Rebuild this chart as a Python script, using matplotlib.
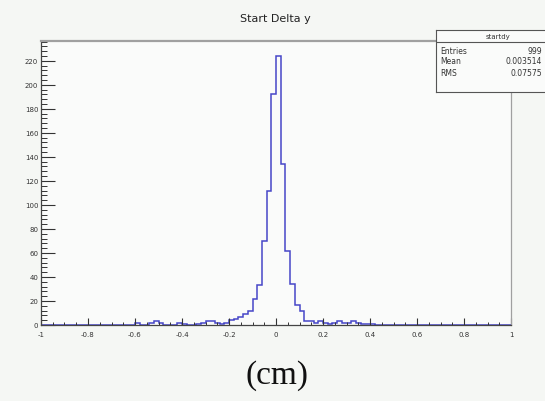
import matplotlib
matplotlib.use("Agg")
import matplotlib.pyplot as plt
from matplotlib.ticker import MultipleLocator, FuncFormatter
import numpy as np

# histogram: 100 bins on [-1, 1]
edges = np.linspace(-1, 1, 101)
counts = np.zeros(100)
bin_vals = {20: 2, 23: 2, 24: 3, 25: 2, 29: 2, 30: 1,
            33: 1, 34: 2, 35: 3, 36: 3, 37: 2, 38: 1, 39: 2,
            40: 4, 41: 5, 42: 7, 43: 9, 44: 12, 45: 22, 46: 33,
            47: 70, 48: 112, 49: 192, 50: 224, 51: 134, 52: 62,
            53: 34, 54: 17, 55: 12, 56: 3, 57: 3, 58: 2, 59: 3,
            60: 2, 61: 1, 62: 2, 63: 3, 64: 2, 65: 2, 66: 3,
            67: 2, 68: 1, 69: 1, 70: 1}
for i, v in bin_vals.items():
    counts[i] = v

stat_names = ["Entries", "Mean", "RMS"]
stat_values = ["999", "0.003514", "0.07575"]

W, H = 545, 402
fig = plt.figure(figsize=(W / 100, H / 100), dpi=100)
fig.patch.set_facecolor("#f5f7f4")

x0, x1, y0, y1 = 41, 511, 42, 326
ax = fig.add_axes([x0 / W, 1 - y1 / H, (x1 - x0) / W, (y1 - y0) / H])
ax.set_facecolor("#fafbfa")
ax.stairs(counts, edges, color="#4646c8", lw=1.1)

ax.set_xlim(-1, 1)
ax.set_ylim(0, 236.5)
ax.xaxis.set_major_locator(MultipleLocator(0.2))
ax.xaxis.set_minor_locator(MultipleLocator(0.05))
ax.yaxis.set_major_locator(MultipleLocator(20))
ax.yaxis.set_minor_locator(MultipleLocator(4))
ax.xaxis.set_major_formatter(FuncFormatter(lambda v, p: "%g" % round(v, 2)))
ax.tick_params(axis="y", which="major", direction="in", length=10, width=0.8,
               labelsize=5, pad=2, colors="#333333")
ax.tick_params(axis="y", which="minor", direction="in", length=4.5, width=0.7,
               colors="#333333")
ax.tick_params(axis="x", which="major", direction="in", length=5, width=0.8,
               labelsize=5, pad=4, colors="#333333")
ax.tick_params(axis="x", which="minor", direction="in", length=2.2, width=0.7,
               colors="#333333")
ax.tick_params(top=False, right=False)
for s in ["left", "bottom"]:
    ax.spines[s].set_color("#444444")
    ax.spines[s].set_linewidth(0.9)
ax.spines["top"].set_color("#a0a0a0")
ax.spines["top"].set_linewidth(1.6)
ax.spines["right"].set_color("#a0a0a0")
ax.spines["right"].set_linewidth(0.9)

fig.text(275 / W, 1 - 19 / H, "Start Delta y", ha="center", va="center",
         fontsize=8, color="#222222")
fig.text(277 / W, 1 - 376 / H, "(cm)", ha="center", va="center",
         fontsize=24, family="Liberation Serif", color="#111111")

# stats box (runs off the right edge as in the original)
bx0, bx1, by0, by1 = 436, 560, 31, 93
box = fig.add_axes([bx0 / W, 1 - by1 / H, (bx1 - bx0) / W, (by1 - by0) / H])
box.set_xlim(bx0, bx1)
box.set_ylim(by1, by0)
box.set_xticks([])
box.set_yticks([])
box.set_facecolor("#fafbfa")
for s in box.spines.values():
    s.set_color("#555555")
    s.set_linewidth(0.8)
box.axhline(43, color="#555555", lw=0.8)
box.text(498, 37, "startdy", ha="center", va="center", fontsize=5, color="#333333")
for k, (n, v) in enumerate(zip(stat_names, stat_values)):
    yy = 51 + k * 11
    box.text(440, yy, n, ha="left", va="center", fontsize=5.5, color="#333333")
    box.text(542, yy, v, ha="right", va="center", fontsize=5.5, color="#333333")

fig.savefig("out.png", dpi=100, facecolor=fig.get_facecolor())
